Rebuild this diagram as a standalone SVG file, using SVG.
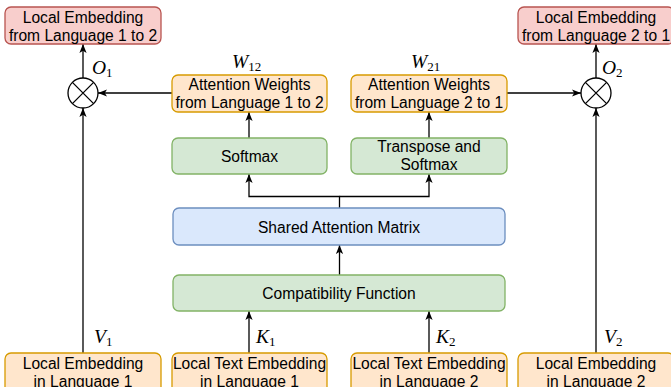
<svg xmlns="http://www.w3.org/2000/svg" width="671" height="387" viewBox="0 0 671 387">
<style>
.box{stroke-width:1.3}
.red{fill:#f8cecc;stroke:#b85450}
.orange{fill:#ffe6cc;stroke:#d79b00}
.green{fill:#d5e8d4;stroke:#82b366}
.blue{fill:#dae8fc;stroke:#6c8ebf}
.t{font-family:"Liberation Sans",Arial,sans-serif;font-size:15.6px;fill:#000;text-anchor:middle}
.m{font-family:"Liberation Serif","Times New Roman",serif;font-style:italic;font-size:19.5px;fill:#000}
.s{font-style:normal;font-size:13px}
.ln{stroke:#000;stroke-width:1.3;fill:none}
</style>
<defs>
<marker id="ah" viewBox="0 0 10 8" refX="10" refY="4" markerWidth="9" markerHeight="7.5" markerUnits="userSpaceOnUse" orient="auto">
<path d="M0,0 L10,4 L0,8 L2.5,4 Z" fill="#000"/>
</marker>
</defs>
<g id="connectors">
<path class="ln" d="M83,353 V108" marker-end="url(#ah)"/>
<path class="ln" d="M596,353 V108" marker-end="url(#ah)"/>
<path class="ln" d="M83,78 V44" marker-end="url(#ah)"/>
<path class="ln" d="M596,78 V44" marker-end="url(#ah)"/>
<path class="ln" d="M172,93 H98" marker-end="url(#ah)"/>
<path class="ln" d="M507,93 H581" marker-end="url(#ah)"/>
<path class="ln" d="M249,138 V112" marker-end="url(#ah)"/>
<path class="ln" d="M429,138 V112" marker-end="url(#ah)"/>
<path class="ln" d="M339.5,208 V196.5 H249 V174" marker-end="url(#ah)"/>
<path class="ln" d="M339.5,196.5 H429 V174" marker-end="url(#ah)"/>
<path class="ln" d="M339.5,275 V245" marker-end="url(#ah)"/>
<path class="ln" d="M249,353 V311" marker-end="url(#ah)"/>
<path class="ln" d="M429,353 V311" marker-end="url(#ah)"/>
</g>
<g id="out1">
<rect class="box red" x="5" y="7" width="156" height="37" rx="6"/>
<text class="t" x="83" y="23">Local Embedding</text>
<text class="t" x="83" y="41">from Language 1 to 2</text>
</g>
<g id="out2">
<rect class="box red" x="518" y="7" width="156" height="37" rx="6"/>
<text class="t" x="596" y="23">Local Embedding</text>
<text class="t" x="596" y="41">from Language 2 to 1</text>
</g>
<g id="mul1">
<circle cx="83" cy="93" r="15" fill="#fff" stroke="#000" stroke-width="1.3"/>
<path class="ln" d="M72.4,82.4 L93.6,103.6 M93.6,82.4 L72.4,103.6"/>
</g>
<g id="mul2">
<circle cx="596" cy="93" r="15" fill="#fff" stroke="#000" stroke-width="1.3"/>
<path class="ln" d="M585.4,82.4 L606.6,103.6 M606.6,82.4 L585.4,103.6"/>
</g>
<g id="att12">
<rect class="box orange" x="172" y="75" width="155" height="37" rx="6"/>
<text class="t" x="249.5" y="89.5">Attention Weights</text>
<text class="t" x="249.5" y="107.5">from Language 1 to 2</text>
</g>
<g id="att21">
<rect class="box orange" x="351" y="75" width="156" height="37" rx="6"/>
<text class="t" x="429" y="89.5">Attention Weights</text>
<text class="t" x="429" y="107.5">from Language 2 to 1</text>
</g>
<g id="softmax">
<rect class="box green" x="172" y="138" width="155" height="36" rx="6"/>
<text class="t" x="249.5" y="161.5">Softmax</text>
</g>
<g id="transpose">
<rect class="box green" x="351" y="138" width="156" height="36" rx="6"/>
<text class="t" x="429" y="152">Transpose and</text>
<text class="t" x="429" y="170">Softmax</text>
</g>
<g id="shared">
<rect class="box blue" x="173" y="208" width="332" height="37" rx="6"/>
<text class="t" x="339" y="232.5">Shared Attention Matrix</text>
</g>
<g id="compat">
<rect class="box green" x="173" y="275" width="332" height="36" rx="6"/>
<text class="t" x="339" y="299">Compatibility Function</text>
</g>
<g id="in1">
<rect class="box orange" x="5" y="353" width="156" height="40" rx="6"/>
<text class="t" x="83" y="368.5">Local Embedding</text>
<text class="t" x="83" y="387">in Language 1</text>
</g>
<g id="text1">
<rect class="box orange" x="172" y="353" width="155" height="40" rx="6"/>
<text class="t" x="249.5" y="368.5">Local Text Embedding</text>
<text class="t" x="249.5" y="387">in Language 1</text>
</g>
<g id="text2">
<rect class="box orange" x="351" y="353" width="156" height="40" rx="6"/>
<text class="t" x="429" y="368.5">Local Text Embedding</text>
<text class="t" x="429" y="387">in Language 2</text>
</g>
<g id="in2">
<rect class="box orange" x="518" y="353" width="156" height="40" rx="6"/>
<text class="t" x="596" y="368.5">Local Embedding</text>
<text class="t" x="596" y="387">in Language 2</text>
</g>
<g id="labels">
<text class="m" x="92" y="74">O<tspan class="s" dy="3">1</tspan></text>
<text class="m" x="602" y="74">O<tspan class="s" dy="3">2</tspan></text>
<text class="m" x="232" y="68">W<tspan class="s" dy="3">12</tspan></text>
<text class="m" x="411" y="68">W<tspan class="s" dy="3">21</tspan></text>
<text class="m" x="94" y="343">V<tspan class="s" dy="3">1</tspan></text>
<text class="m" x="604" y="343">V<tspan class="s" dy="3">2</tspan></text>
<text class="m" x="256" y="343">K<tspan class="s" dy="3">1</tspan></text>
<text class="m" x="436" y="343">K<tspan class="s" dy="3">2</tspan></text>
</g>
</svg>
